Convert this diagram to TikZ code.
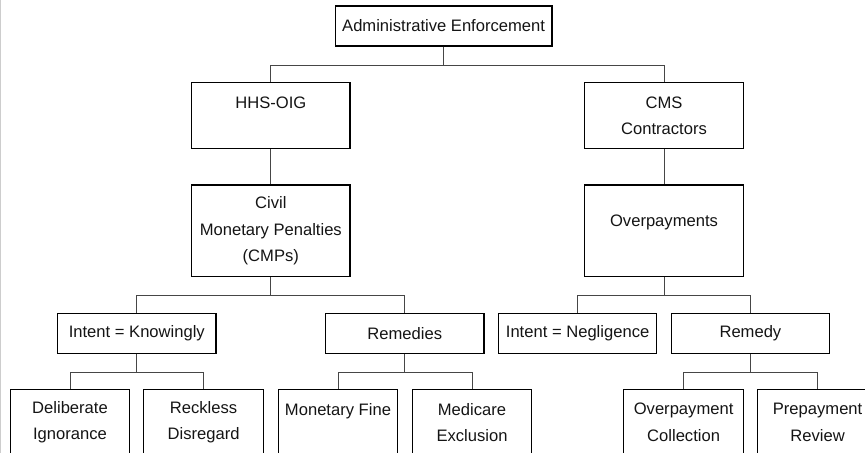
\documentclass[tikz,border=0pt]{standalone}
\usepackage{fontspec}
\setmainfont{Liberation Sans}
\usepackage{tikz}
\usetikzlibrary{positioning}
\definecolor{treeInk}{RGB}{20,20,20}
\definecolor{linkGrey}{RGB}{70,70,70}
\definecolor{edgeGrey}{RGB}{205,205,205}
\newcommand{\treefont}{\fontsize{11.8pt}{18.9pt}\selectfont}

\begin{document}
\begin{tikzpicture}[font=\treefont,text=treeInk,
    unit/.style={draw=black,line width=0.9pt,align=center,inner sep=2pt,
                 minimum width=39.6mm,minimum height=10mm},
    agency/.style={unit,minimum height=16.5mm},
    power/.style={unit,minimum height=22.9mm},
    leaf/.style={unit,minimum width=29.9mm,minimum height=16.5mm},
    link/.style={draw=linkGrey,line width=0.7pt}]

    % page frame, cropped like the scan
    \useasboundingbox (0,0) rectangle (21.625,-11.325);
    \clip (0,0) rectangle (21.625,-11.325);
    \fill[edgeGrey] (0,0) rectangle (0.03,-11.325);

    % top of the tree
    \node[unit,minimum width=54.2mm] (admin) at (11.09,-0.65) {Administrative Enforcement};

    % the two agencies
    \node[agency] (hhs) at (6.77,-2.89)  {HHS-OIG\\ \mbox{}};
    \node[agency] (cms) at (16.60,-2.89) {CMS\\Contractors};

    % what each one pursues
    \node[power] (cmp)   at (6.77,-5.77)  {Civil\\Monetary Penalties\\(CMPs)};
    \node[power] (overp) at (16.60,-5.77) {Overpayments\\[-5pt]\mbox{}};

    % intent and remedies
    \node[unit] (knowing)  at (3.42,-8.33)  {Intent = Knowingly};
    \node[unit] (remedies) at (10.12,-8.33) {Remedies};
    \node[unit] (neglig)   at (14.44,-8.33) {Intent = Negligence};
    \node[unit] (remedy)   at (18.76,-8.33) {Remedy};

    % bottom row
    \node[leaf] (delib)    at (1.75,-10.56)  {Deliberate\\Ignorance};
    \node[leaf] (reckless) at (5.09,-10.56)  {Reckless\\Disregard};
    \node[leaf] (fine)     at (8.45,-10.56)  {Monetary Fine\\ \mbox{}};
    \node[leaf] (medicare) at (11.80,-10.56) {Medicare\\Exclusion};
    \node[leaf] (collect)  at (17.09,-10.56) {Overpayment\\Collection};
    \node[leaf] (prepay)   at (20.44,-10.56) {Prepayment\\Review};

    % elbow connectors, parent to child
    \foreach \p/\c in {admin/hhs,admin/cms,hhs/cmp,cms/overp,
                       cmp/knowing,cmp/remedies,overp/neglig,overp/remedy,
                       knowing/delib,knowing/reckless,remedies/fine,remedies/medicare,
                       remedy/collect,remedy/prepay}
      \draw[link] (\p.south) -- ++(0,-0.46) -| (\c.north);
  \end{tikzpicture}
\end{document}
